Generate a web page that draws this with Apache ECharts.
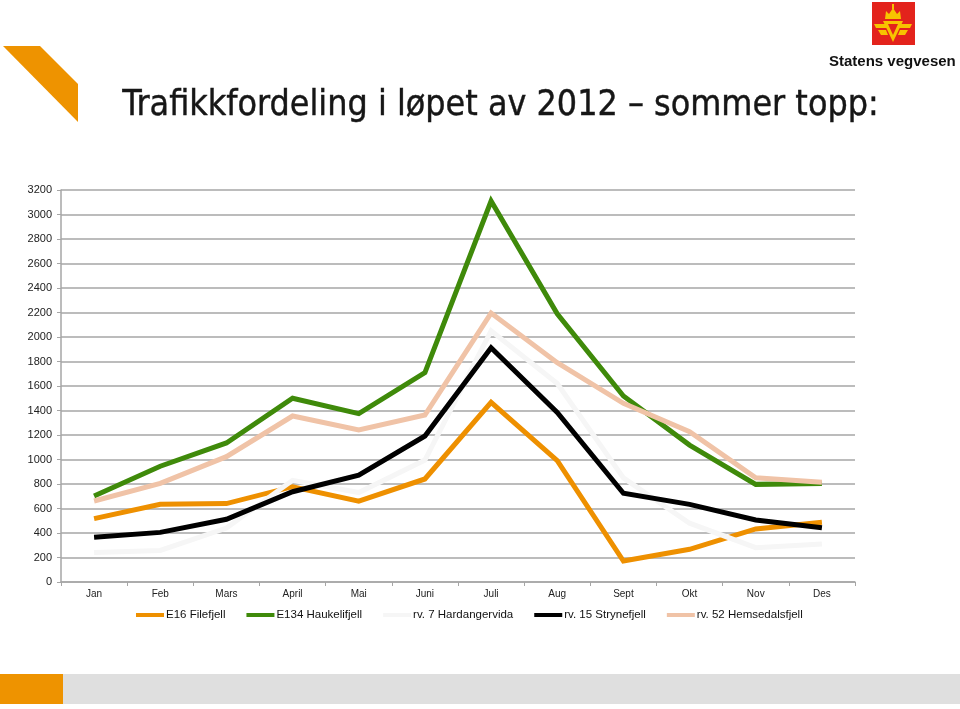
<!DOCTYPE html>
<html>
<head>
<meta charset="utf-8">
<script src="https://cdn.jsdelivr.net/npm/echarts@6/dist/echarts.min.js"></script>
<style>
html,body{margin:0;padding:0;background:#fff;}
#chart{width:960px;height:709px;}
</style>
</head>
<body>
<div id="chart"></div>
<script>
const months = ['Jan','Feb','Mars','April','Mai','Juni','Juli','Aug','Sept','Okt','Nov','Des'];
const seriesNames = ['E16 Filefjell','E134 Haukelifjell','rv. 7 Hardangervida','rv. 15 Strynefjell','rv. 52 Hemsedalsfjell'];
const e16 = [517, 634, 640, 778, 660, 841, 1467, 990, 171, 267, 433, 487];
const e134 = [702, 945, 1135, 1500, 1375, 1709, 3110, 2190, 1518, 1118, 797, 805];
const rv7 = [240, 258, 440, 830, 730, 995, 2050, 1620, 850, 480, 280, 310];
const rv15 = [365, 405, 512, 737, 873, 1192, 1913, 1385, 724, 634, 506, 443];
const rv52 = [661, 805, 1023, 1355, 1241, 1363, 2195, 1790, 1459, 1227, 851, 814];
const yTicks = [0, 200, 400, 600, 800, 1000, 1200, 1400, 1600, 1800, 2000, 2200, 2400, 2600, 2800, 3000, 3200];
const titleText = 'Trafikkfordeling i løpet av 2012 – sommer topp:';
const logoText = 'Statens vegvesen';

const colors = ['#ee9000', '#3f8a0a', '#f6f6f6', '#000000', '#f0c3a7'];
const dataSets = [e16, e134, rv7, rv15, rv52];

const chart = echarts.init(document.getElementById('chart'), null, {renderer: 'canvas'});
const option = {
  backgroundColor: '#ffffff',
  animation: false,
  color: colors,
  grid: {left: 61, right: 105, top: 190, bottom: 127, containLabel: false},
  legend: {
    bottom: 83,
    left: 131,
    itemWidth: 28,
    itemHeight: 4,
    itemGap: 21,
    icon: 'rect',
    textStyle: {fontFamily: 'Liberation Sans, Arial, sans-serif', fontSize: 11.5, color: '#111', padding: [0,0,0,-3]},
    data: seriesNames
  },
  xAxis: {
    type: 'category',
    data: months,
    boundaryGap: true,
    axisLine: {lineStyle: {color: '#a6a6a6', width: 1.5}},
    axisTick: {show: true, length: 4, lineStyle: {color: '#a6a6a6'}},
    axisLabel: {fontFamily: 'Liberation Sans, Arial, sans-serif', fontSize: 10, color: '#222', margin: 7}
  },
  yAxis: {
    type: 'value',
    min: yTicks[0],
    max: yTicks[yTicks.length - 1],
    interval: 200,
    axisLine: {show: true, lineStyle: {color: '#a6a6a6', width: 1.5}},
    axisTick: {show: true, length: 4, lineStyle: {color: '#a6a6a6'}},
    splitLine: {lineStyle: {color: '#a6a6a6', width: 1.5}},
    axisLabel: {fontFamily: 'Liberation Sans, Arial, sans-serif', fontSize: 11, color: '#222', margin: 9,
      formatter: v => String(v)}
  },
  series: seriesNames.map((n, i) => ({
    name: n,
    type: 'line',
    data: dataSets[i],
    symbol: 'none',
    lineStyle: {width: 5, color: colors[i], join: 'miter'},
    itemStyle: {color: colors[i]},
    z: 2 + i
  })),
  graphic: [
    {type: 'polygon', shape: {points: [[3,46],[40,46],[78,84],[78,122]]}, style: {fill: '#ee9300'}},
    {type: 'rect', shape: {x: 0, y: 674, width: 63, height: 30}, style: {fill: '#ee9300'}},
    {type: 'rect', shape: {x: 63, y: 674, width: 897, height: 30}, style: {fill: '#dfdfdf'}},
    {type: 'text', left: 122, top: 88, style: {text: titleText, font: '35.5px "DejaVu Sans Condensed", "DejaVu Sans", sans-serif', fill: '#161616', stroke: '#161616', lineWidth: 0.4}},
    {type: 'rect', shape: {x: 872, y: 2, width: 43, height: 43}, style: {fill: '#e3231c'}},
    // emblem: crown
    {type: 'polygon', shape: {points: [[885,19],[886,11],[889,14],[893,8],[897,14],[900,11],[901,19]]}, style: {fill: '#f7c400'}},
    {type: 'rect', shape: {x: 892, y: 4, width: 2, height: 5}, style: {fill: '#f7c400'}},
    // wings
    {type: 'polygon', shape: {points: [[874,24],[887,24],[888,28],[876,28]]}, style: {fill: '#f7c400'}},
    {type: 'polygon', shape: {points: [[899,24],[912,24],[910,28],[898,28]]}, style: {fill: '#f7c400'}},
    {type: 'polygon', shape: {points: [[878,30],[886,30],[888,35],[881,35]]}, style: {fill: '#f7c400'}},
    {type: 'polygon', shape: {points: [[900,30],[908,30],[905,35],[898,35]]}, style: {fill: '#f7c400'}},
    // triangle V
    {type: 'polygon', shape: {points: [[883,21],[903,21],[893,42]]}, style: {fill: '#f7c400'}},
    {type: 'polygon', shape: {points: [[888,24],[898,24],[893,35]]}, style: {fill: '#e3231c'}},
    {type: 'text', left: 829, top: 54, style: {text: logoText, font: 'bold 15px "Liberation Sans", Arial, sans-serif', fill: '#111'}}
  ]
};
chart.setOption(option);
</script>
</body>
</html>
